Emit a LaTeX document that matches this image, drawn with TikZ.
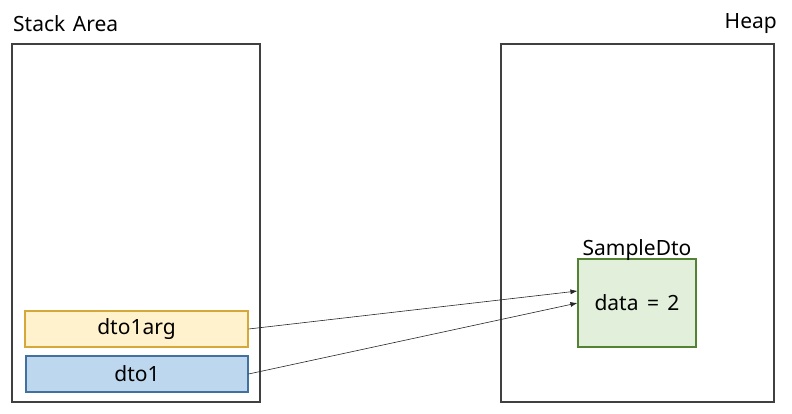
\documentclass[tikz,border=0pt]{standalone}
\usepackage{fontspec}
\setmainfont{Noto Sans}
\usetikzlibrary{arrows.meta}
\definecolor{argfill}{HTML}{FFF2CC}
\definecolor{argline}{HTML}{D6A83A}
\definecolor{dtofill}{HTML}{BDD7EE}
\definecolor{dtoline}{HTML}{41719C}
\definecolor{objfill}{HTML}{E2EFDA}
\definecolor{objline}{HTML}{548235}
\definecolor{arealine}{HTML}{404040}
\begin{document}
\begin{tikzpicture}[x=1pt,y=-1pt,
  area/.style={draw=arealine,line width=1.6pt,fill=white},
  cell/.style={draw,line width=1.1pt,inner sep=0pt,font=\fontsize{21}{24}\selectfont},
  lbl/.style={inner sep=0pt,font=\fontsize{21}{24}\selectfont},
  ptr/.style={-{Latex[length=7pt,width=5pt]},line width=0.6pt,black!85}]
\useasboundingbox (0,0) rectangle (792,413);
\node[area,minimum width=248pt,minimum height=358pt,anchor=north west] (stack) at (11,43) {};
\node[area,minimum width=273pt,minimum height=358pt,anchor=north west] (heap) at (500,43) {};
\node[lbl,anchor=west] (stacklbl) at (13,24) {Stack\hspace{2pt} Area};
\node[lbl,anchor=east] (heaplbl) at (777,24) {Heap};
\node[cell,draw=argline,fill=argfill,minimum width=223pt,minimum height=36pt] (arg) at (136.5,329) {dto1arg};
\node[cell,draw=dtoline,fill=dtofill,minimum width=222pt,minimum height=36pt] (dto) at (137,374) {dto1};
\node[cell,draw=objline,fill=objfill,minimum width=118pt,minimum height=88pt] (obj) at (637,303) {data\hspace{3pt} =\hspace{3pt} 2};
\node[lbl,anchor=south] (objlbl) at ([yshift=-2pt]obj.north) {SampleDto};
\draw[ptr] (arg.east) -- ([yshift=12pt]obj.west);
\draw[ptr] (dto.east) -- (obj.west);
\end{tikzpicture}
\end{document}
